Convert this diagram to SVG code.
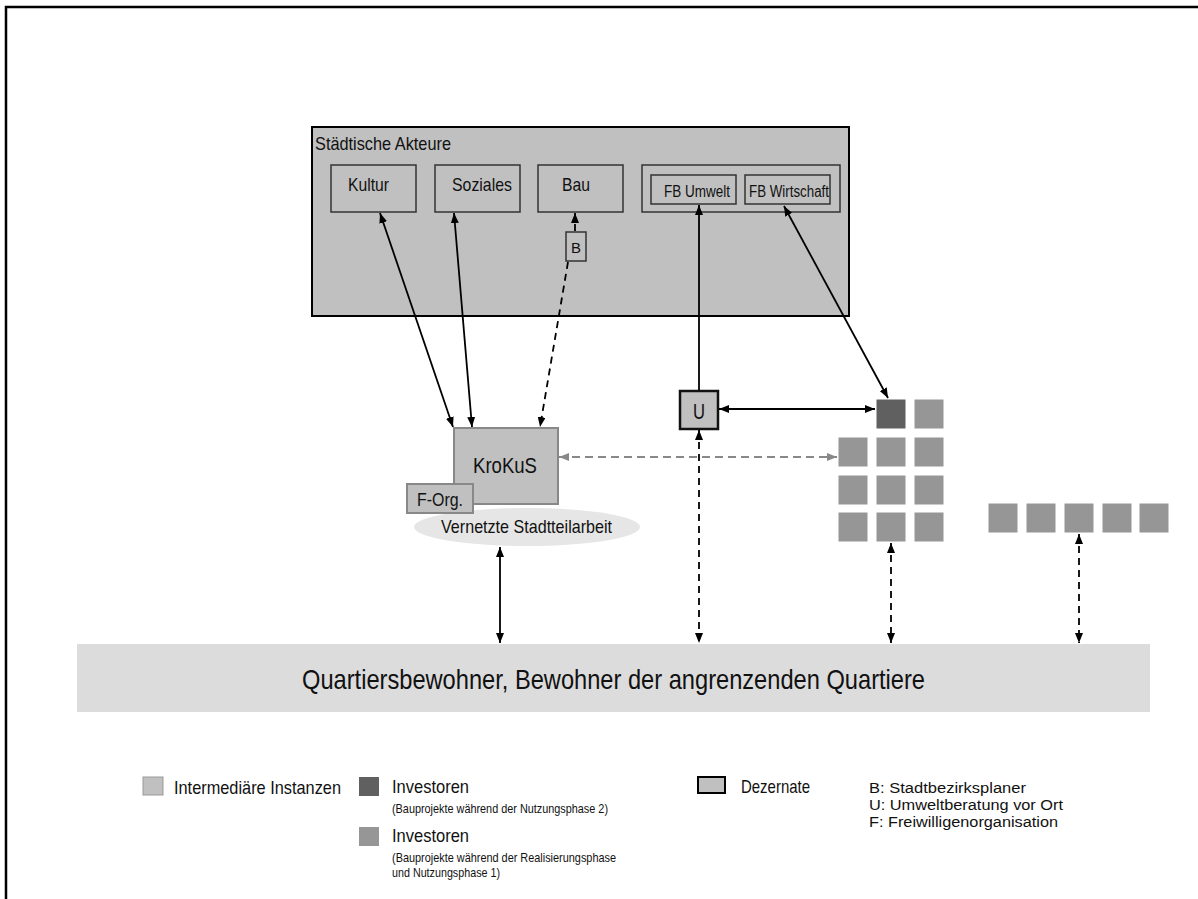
<svg xmlns="http://www.w3.org/2000/svg" width="1198" height="899" viewBox="0 0 1198 899">
<defs>
<marker id="ah" viewBox="0 0 10 8" refX="10" refY="4" markerWidth="10" markerHeight="8" markerUnits="userSpaceOnUse" orient="auto-start-reverse"><path d="M0,0 L10,4 L0,8 Z" fill="#000"/></marker>
<marker id="ahg" viewBox="0 0 10 8" refX="10" refY="4" markerWidth="10" markerHeight="8" markerUnits="userSpaceOnUse" orient="auto-start-reverse"><path d="M0,0 L10,4 L0,8 Z" fill="#888"/></marker>
</defs>
<style>
text{font-family:"Liberation Sans",Arial,sans-serif;fill:#111}
.box{fill:#c0c0c0;stroke:#333;stroke-width:1.5}
.inv{fill:#969696;stroke:#fff;stroke-width:1}
.invd{fill:#606060;stroke:#fff;stroke-width:1}
.c{stroke:#000;stroke-width:1.8;fill:none}
.d{stroke:#000;stroke-width:1.8;fill:none;stroke-dasharray:7,5}
.g{stroke:#888;stroke-width:1.8;fill:none;stroke-dasharray:8,5}
</style>
<rect width="1198" height="899" fill="#fff"/>
<path d="M6,899 V7 H1198" fill="none" stroke="#000" stroke-width="2.5"/>

<g id="staedtische-akteure">
<rect x="312" y="127" width="537" height="189" fill="#c0c0c0" stroke="#000" stroke-width="2"/>
<text x="315" y="150" font-size="19" textLength="136" lengthAdjust="spacingAndGlyphs">Städtische Akteure</text>
</g>
<g id="kultur"><rect class="box" x="331" y="165" width="85" height="47"/><text x="348" y="191" font-size="19" textLength="41" lengthAdjust="spacingAndGlyphs">Kultur</text></g>
<g id="soziales"><rect class="box" x="435" y="165" width="85" height="47"/><text x="452" y="191" font-size="19" textLength="60" lengthAdjust="spacingAndGlyphs">Soziales</text></g>
<g id="bau"><rect class="box" x="538" y="165" width="85" height="47"/><text x="562" y="191" font-size="19" textLength="28" lengthAdjust="spacingAndGlyphs">Bau</text></g>
<g id="fb-gruppe"><rect class="box" x="642" y="165" width="198" height="47"/></g>
<g id="fb-umwelt"><rect class="box" x="651" y="175" width="85" height="29"/><text x="664" y="197" font-size="16" textLength="66" lengthAdjust="spacingAndGlyphs">FB Umwelt</text></g>
<g id="fb-wirtschaft"><rect class="box" x="745" y="175" width="85" height="29"/><text x="749" y="197" font-size="16" textLength="80" lengthAdjust="spacingAndGlyphs">FB Wirtschaft</text></g>
<g id="b"><rect class="box" x="566" y="232" width="20" height="29"/><text x="571" y="253" font-size="15" textLength="10" lengthAdjust="spacingAndGlyphs">B</text></g>

<g id="vernetzte-stadtteilarbeit"><ellipse cx="527" cy="527" rx="113" ry="19" fill="#e6e6e6"/><text x="441" y="533" font-size="19" textLength="171" lengthAdjust="spacingAndGlyphs">Vernetzte Stadtteilarbeit</text></g>
<g id="krokus"><rect x="454" y="428" width="104" height="76" fill="#c0c0c0" stroke="#888" stroke-width="2"/><text x="473" y="473" font-size="22.5" textLength="64" lengthAdjust="spacingAndGlyphs">KroKuS</text></g>
<g id="f-org"><rect x="407" y="484" width="66" height="29" fill="#c0c0c0" stroke="#888" stroke-width="2"/><text x="417" y="506" font-size="19" textLength="46" lengthAdjust="spacingAndGlyphs">F-Org.</text></g>

<g id="u"><rect x="680" y="391" width="38" height="38" fill="#c0c0c0" stroke="#111" stroke-width="2.5"/><text x="693" y="419" font-size="22" textLength="12" lengthAdjust="spacingAndGlyphs">U</text></g>

<g id="investoren-grid">
<rect class="invd" x="876" y="399" width="30" height="30"/>
<rect class="inv" x="914" y="399" width="30" height="30"/>
<rect class="inv" x="838" y="437" width="30" height="30"/>
<rect class="inv" x="876" y="437" width="30" height="30"/>
<rect class="inv" x="914" y="437" width="30" height="30"/>
<rect class="inv" x="838" y="475" width="30" height="30"/>
<rect class="inv" x="876" y="475" width="30" height="30"/>
<rect class="inv" x="914" y="475" width="30" height="30"/>
<rect class="inv" x="838" y="512" width="30" height="30"/>
<rect class="inv" x="876" y="512" width="30" height="30"/>
<rect class="inv" x="914" y="512" width="30" height="30"/>
</g>
<g id="investoren-reihe">
<rect class="inv" x="988" y="503" width="30" height="30"/>
<rect class="inv" x="1026" y="503" width="30" height="30"/>
<rect class="inv" x="1064" y="503" width="30" height="30"/>
<rect class="inv" x="1102" y="503" width="30" height="30"/>
<rect class="inv" x="1139" y="503" width="30" height="30"/>
</g>

<g id="quartiersbewohner"><rect x="77" y="644" width="1073" height="68" fill="#dcdcdc"/><text x="302" y="689" font-size="28" textLength="623" lengthAdjust="spacingAndGlyphs">Quartiersbewohner, Bewohner der angrenzenden Quartiere</text></g>

<g id="connectors">
<line class="c" x1="380" y1="213" x2="453" y2="427" marker-start="url(#ah)" marker-end="url(#ah)"/>
<line class="c" x1="454" y1="213" x2="472" y2="427" marker-start="url(#ah)" marker-end="url(#ah)"/>
<line class="d" x1="575" y1="231" x2="575" y2="213" marker-end="url(#ah)"/>
<line class="d" x1="568" y1="262" x2="540" y2="427" marker-end="url(#ah)"/>
<line class="c" x1="699" y1="390" x2="699" y2="205" marker-end="url(#ah)"/>
<line class="c" x1="784" y1="206" x2="888" y2="398" marker-start="url(#ah)" marker-end="url(#ah)"/>
<line class="c" x1="719" y1="409" x2="875" y2="409" marker-start="url(#ah)" marker-end="url(#ah)"/>
<line class="g" x1="559" y1="457" x2="837" y2="457" marker-start="url(#ahg)" marker-end="url(#ahg)"/>
<line class="d" x1="699" y1="430" x2="699" y2="643" marker-start="url(#ah)" marker-end="url(#ah)"/>
<line class="c" x1="500" y1="547" x2="500" y2="643" marker-start="url(#ah)" marker-end="url(#ah)"/>
<line class="d" x1="891" y1="543" x2="891" y2="643" marker-start="url(#ah)" marker-end="url(#ah)"/>
<line class="d" x1="1079" y1="534" x2="1079" y2="643" marker-start="url(#ah)" marker-end="url(#ah)"/>
</g>

<g id="legende">
<rect x="143" y="777" width="20" height="18" fill="#c0c0c0" stroke="#999" stroke-width="1"/>
<text x="174" y="794" font-size="19" textLength="167" lengthAdjust="spacingAndGlyphs">Intermediäre Instanzen</text>
<rect x="359" y="777" width="20" height="19" fill="#606060"/>
<text x="392" y="793" font-size="19" textLength="77" lengthAdjust="spacingAndGlyphs">Investoren</text>
<text x="392" y="813" font-size="13" textLength="216" lengthAdjust="spacingAndGlyphs">(Bauprojekte während der Nutzungsphase 2)</text>
<rect x="359" y="827" width="20" height="19" fill="#969696"/>
<text x="392" y="842" font-size="19" textLength="77" lengthAdjust="spacingAndGlyphs">Investoren</text>
<text x="392" y="862" font-size="13" textLength="224" lengthAdjust="spacingAndGlyphs">(Bauprojekte während der Realisierungsphase</text>
<text x="392" y="877" font-size="13" textLength="108" lengthAdjust="spacingAndGlyphs">und Nutzungsphase 1)</text>
<rect x="698" y="777" width="27" height="16" fill="#c0c0c0" stroke="#000" stroke-width="2"/>
<text x="741" y="793" font-size="18.5" textLength="69" lengthAdjust="spacingAndGlyphs">Dezernate</text>
<text x="869" y="793" font-size="15.5" textLength="157" lengthAdjust="spacingAndGlyphs">B: Stadtbezirksplaner</text>
<text x="869" y="810" font-size="15.5" textLength="194" lengthAdjust="spacingAndGlyphs">U: Umweltberatung vor Ort</text>
<text x="869" y="827" font-size="15.5" textLength="189" lengthAdjust="spacingAndGlyphs">F: Freiwilligenorganisation</text>
</g>
</svg>
